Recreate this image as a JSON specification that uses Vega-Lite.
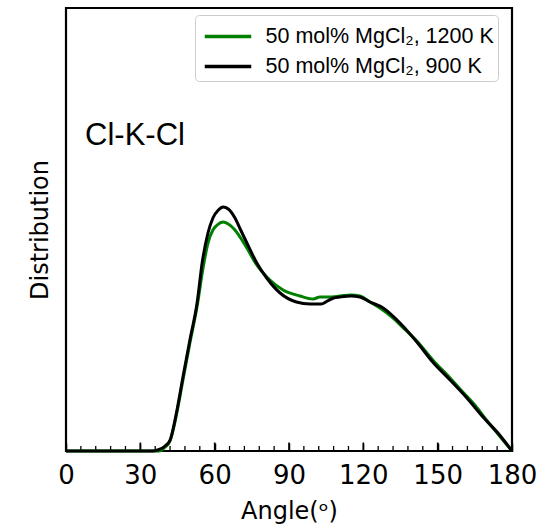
{
  "$schema": "https://vega.github.io/schema/vega-lite/v6.json",
  "width": 446,
  "height": 443,
  "autosize": {"type": "none"},
  "padding": {"left": 66, "top": 8, "right": 32, "bottom": 76},
  "background": "white",
  "config": {"view": {"stroke": "black", "strokeWidth": 2.2}},
  "datasets": {
    "curves": [
      {"angle": 0, "value": 0, "series": "50 mol% MgCl₂, 1200 K"},
      {"angle": 30, "value": 0, "series": "50 mol% MgCl₂, 1200 K"},
      {"angle": 37.5, "value": 0, "series": "50 mol% MgCl₂, 1200 K"},
      {"angle": 40, "value": 0.04, "series": "50 mol% MgCl₂, 1200 K"},
      {"angle": 42, "value": 0.1, "series": "50 mol% MgCl₂, 1200 K"},
      {"angle": 44.8, "value": 0.39, "series": "50 mol% MgCl₂, 1200 K"},
      {"angle": 47.2, "value": 0.71, "series": "50 mol% MgCl₂, 1200 K"},
      {"angle": 50, "value": 1.08, "series": "50 mol% MgCl₂, 1200 K"},
      {"angle": 53, "value": 1.46, "series": "50 mol% MgCl₂, 1200 K"},
      {"angle": 55.3, "value": 1.83, "series": "50 mol% MgCl₂, 1200 K"},
      {"angle": 57.3, "value": 2.08, "series": "50 mol% MgCl₂, 1200 K"},
      {"angle": 59.3, "value": 2.21, "series": "50 mol% MgCl₂, 1200 K"},
      {"angle": 61, "value": 2.26, "series": "50 mol% MgCl₂, 1200 K"},
      {"angle": 63.4, "value": 2.29, "series": "50 mol% MgCl₂, 1200 K"},
      {"angle": 65.5, "value": 2.27, "series": "50 mol% MgCl₂, 1200 K"},
      {"angle": 68.2, "value": 2.21, "series": "50 mol% MgCl₂, 1200 K"},
      {"angle": 70.5, "value": 2.13, "series": "50 mol% MgCl₂, 1200 K"},
      {"angle": 73, "value": 2.03, "series": "50 mol% MgCl₂, 1200 K"},
      {"angle": 77, "value": 1.86, "series": "50 mol% MgCl₂, 1200 K"},
      {"angle": 82.3, "value": 1.71, "series": "50 mol% MgCl₂, 1200 K"},
      {"angle": 87.6, "value": 1.61, "series": "50 mol% MgCl₂, 1200 K"},
      {"angle": 94.4, "value": 1.55, "series": "50 mol% MgCl₂, 1200 K"},
      {"angle": 99.7, "value": 1.52, "series": "50 mol% MgCl₂, 1200 K"},
      {"angle": 102.5, "value": 1.54, "series": "50 mol% MgCl₂, 1200 K"},
      {"angle": 106, "value": 1.54, "series": "50 mol% MgCl₂, 1200 K"},
      {"angle": 110.6, "value": 1.55, "series": "50 mol% MgCl₂, 1200 K"},
      {"angle": 115, "value": 1.56, "series": "50 mol% MgCl₂, 1200 K"},
      {"angle": 118.6, "value": 1.55, "series": "50 mol% MgCl₂, 1200 K"},
      {"angle": 122.7, "value": 1.49, "series": "50 mol% MgCl₂, 1200 K"},
      {"angle": 126.7, "value": 1.43, "series": "50 mol% MgCl₂, 1200 K"},
      {"angle": 132, "value": 1.33, "series": "50 mol% MgCl₂, 1200 K"},
      {"angle": 137, "value": 1.21, "series": "50 mol% MgCl₂, 1200 K"},
      {"angle": 141.6, "value": 1.1, "series": "50 mol% MgCl₂, 1200 K"},
      {"angle": 148, "value": 0.91, "series": "50 mol% MgCl₂, 1200 K"},
      {"angle": 155, "value": 0.73, "series": "50 mol% MgCl₂, 1200 K"},
      {"angle": 159, "value": 0.62, "series": "50 mol% MgCl₂, 1200 K"},
      {"angle": 165, "value": 0.46, "series": "50 mol% MgCl₂, 1200 K"},
      {"angle": 170, "value": 0.3, "series": "50 mol% MgCl₂, 1200 K"},
      {"angle": 175, "value": 0.15, "series": "50 mol% MgCl₂, 1200 K"},
      {"angle": 180, "value": 0, "series": "50 mol% MgCl₂, 1200 K"},
      {"angle": 0, "value": 0, "series": "50 mol% MgCl₂, 900 K"},
      {"angle": 30, "value": 0, "series": "50 mol% MgCl₂, 900 K"},
      {"angle": 35, "value": 0, "series": "50 mol% MgCl₂, 900 K"},
      {"angle": 37, "value": 0.01, "series": "50 mol% MgCl₂, 900 K"},
      {"angle": 40, "value": 0.05, "series": "50 mol% MgCl₂, 900 K"},
      {"angle": 42, "value": 0.11, "series": "50 mol% MgCl₂, 900 K"},
      {"angle": 44.8, "value": 0.41, "series": "50 mol% MgCl₂, 900 K"},
      {"angle": 47.2, "value": 0.74, "series": "50 mol% MgCl₂, 900 K"},
      {"angle": 50, "value": 1.11, "series": "50 mol% MgCl₂, 900 K"},
      {"angle": 52.9, "value": 1.48, "series": "50 mol% MgCl₂, 900 K"},
      {"angle": 55, "value": 1.89, "series": "50 mol% MgCl₂, 900 K"},
      {"angle": 57.3, "value": 2.18, "series": "50 mol% MgCl₂, 900 K"},
      {"angle": 59.3, "value": 2.33, "series": "50 mol% MgCl₂, 900 K"},
      {"angle": 61.5, "value": 2.41, "series": "50 mol% MgCl₂, 900 K"},
      {"angle": 63.4, "value": 2.44, "series": "50 mol% MgCl₂, 900 K"},
      {"angle": 65.5, "value": 2.42, "series": "50 mol% MgCl₂, 900 K"},
      {"angle": 68.2, "value": 2.33, "series": "50 mol% MgCl₂, 900 K"},
      {"angle": 70.5, "value": 2.21, "series": "50 mol% MgCl₂, 900 K"},
      {"angle": 73, "value": 2.08, "series": "50 mol% MgCl₂, 900 K"},
      {"angle": 77, "value": 1.88, "series": "50 mol% MgCl₂, 900 K"},
      {"angle": 81, "value": 1.73, "series": "50 mol% MgCl₂, 900 K"},
      {"angle": 86.4, "value": 1.58, "series": "50 mol% MgCl₂, 900 K"},
      {"angle": 93, "value": 1.49, "series": "50 mol% MgCl₂, 900 K"},
      {"angle": 98.5, "value": 1.47, "series": "50 mol% MgCl₂, 900 K"},
      {"angle": 103, "value": 1.47, "series": "50 mol% MgCl₂, 900 K"},
      {"angle": 105.5, "value": 1.5, "series": "50 mol% MgCl₂, 900 K"},
      {"angle": 108, "value": 1.53, "series": "50 mol% MgCl₂, 900 K"},
      {"angle": 110.6, "value": 1.54, "series": "50 mol% MgCl₂, 900 K"},
      {"angle": 115, "value": 1.55, "series": "50 mol% MgCl₂, 900 K"},
      {"angle": 118.6, "value": 1.54, "series": "50 mol% MgCl₂, 900 K"},
      {"angle": 122.7, "value": 1.49, "series": "50 mol% MgCl₂, 900 K"},
      {"angle": 128, "value": 1.43, "series": "50 mol% MgCl₂, 900 K"},
      {"angle": 134.8, "value": 1.28, "series": "50 mol% MgCl₂, 900 K"},
      {"angle": 141.6, "value": 1.09, "series": "50 mol% MgCl₂, 900 K"},
      {"angle": 148, "value": 0.89, "series": "50 mol% MgCl₂, 900 K"},
      {"angle": 155, "value": 0.71, "series": "50 mol% MgCl₂, 900 K"},
      {"angle": 161.8, "value": 0.53, "series": "50 mol% MgCl₂, 900 K"},
      {"angle": 168.3, "value": 0.34, "series": "50 mol% MgCl₂, 900 K"},
      {"angle": 175, "value": 0.16, "series": "50 mol% MgCl₂, 900 K"},
      {"angle": 180, "value": 0, "series": "50 mol% MgCl₂, 900 K"}
    ],
    "ticks": [
      {"angle": 0, "kind": "major"}, {"angle": 30, "kind": "major"}, {"angle": 60, "kind": "major"},
      {"angle": 90, "kind": "major"}, {"angle": 120, "kind": "major"}, {"angle": 150, "kind": "major"},
      {"angle": 6, "kind": "minor"}, {"angle": 12, "kind": "minor"}, {"angle": 18, "kind": "minor"}, {"angle": 24, "kind": "minor"},
      {"angle": 36, "kind": "minor"}, {"angle": 42, "kind": "minor"}, {"angle": 48, "kind": "minor"}, {"angle": 54, "kind": "minor"},
      {"angle": 66, "kind": "minor"}, {"angle": 72, "kind": "minor"}, {"angle": 78, "kind": "minor"}, {"angle": 84, "kind": "minor"},
      {"angle": 96, "kind": "minor"}, {"angle": 102, "kind": "minor"}, {"angle": 108, "kind": "minor"}, {"angle": 114, "kind": "minor"},
      {"angle": 126, "kind": "minor"}, {"angle": 132, "kind": "minor"}, {"angle": 138, "kind": "minor"}, {"angle": 144, "kind": "minor"},
      {"angle": 156, "kind": "minor"}, {"angle": 162, "kind": "minor"}, {"angle": 168, "kind": "minor"}, {"angle": 174, "kind": "minor"}
    ],
    "labels": [{"label": "Cl-K-Cl"}]
  },
  "layer": [
    {
      "data": {"name": "ticks"},
      "transform": [{"filter": "datum.kind === 'major'"}],
      "mark": {"type": "rule", "color": "black", "strokeWidth": 1.6},
      "encoding": {
        "x": {"field": "angle", "type": "quantitative"},
        "y": {"datum": 0, "type": "quantitative"},
        "y2": {"datum": 0.085}
      }
    },
    {
      "data": {"name": "ticks"},
      "transform": [{"filter": "datum.kind === 'minor'"}],
      "mark": {"type": "rule", "color": "black", "strokeWidth": 1.3},
      "encoding": {
        "x": {"field": "angle", "type": "quantitative"},
        "y": {"datum": 0, "type": "quantitative"},
        "y2": {"datum": 0.05}
      }
    },
    {
      "data": {"name": "curves"},
      "mark": {"type": "line", "strokeWidth": 3, "interpolate": "monotone"},
      "encoding": {
        "x": {
          "field": "angle", "type": "quantitative",
          "scale": {"domain": [0, 180], "nice": false},
          "axis": {
            "title": "Angle(ᵒ)", "values": [0, 30, 60, 90, 120, 150, 180], "zindex": 1,
            "domain": false, "grid": false, "ticks": true, "tickSize": -8, "tickWidth": 1.5, "tickColor": "#000000",
            "labelFont": "DejaVu Sans", "labelFontSize": 26, "labelColor": "black", "labelPadding": 19,
            "labelFlush": false,
            "titleFont": "DejaVu Sans", "titleFontSize": 24, "titleFontWeight": "normal", "titleColor": "black", "titlePadding": 11
          }
        },
        "y": {
          "field": "value", "type": "quantitative",
          "scale": {"domain": [0, 4.43], "nice": false},
          "axis": {
            "title": "Distribution", "labels": false, "ticks": false, "domain": false, "grid": false,
            "titleFont": "DejaVu Sans", "titleFontSize": 24, "titleFontWeight": "normal", "titleColor": "black", "titlePadding": 14
          }
        },
        "color": {
          "field": "series", "type": "nominal",
          "scale": {"domain": ["50 mol% MgCl₂, 1200 K", "50 mol% MgCl₂, 900 K"], "range": ["#008000", "#000000"]},
          "legend": {
            "title": null, "orient": "none", "legendX": 129, "legendY": 7,
            "symbolType": "M-1.5,0H1.5", "symbolSize": 961, "symbolStrokeWidth": 3.5, "symbolOffset": 11.5,
            "labelFont": "Liberation Sans", "labelFontSize": 21.5, "labelColor": "black", "labelOffset": 20, "labelLimit": 400,
            "rowPadding": 2, "padding": 4, "strokeColor": "#cccccc", "fillColor": "white", "cornerRadius": 4
          }
        }
      }
    },
    {
      "data": {"name": "labels"},
      "mark": {"type": "text", "font": "Liberation Sans", "fontSize": 31, "align": "left", "baseline": "middle", "color": "black"},
      "encoding": {
        "x": {"datum": 7.7, "type": "quantitative"},
        "y": {"datum": 3.15, "type": "quantitative"},
        "text": {"field": "label"}
      }
    }
  ]
}
